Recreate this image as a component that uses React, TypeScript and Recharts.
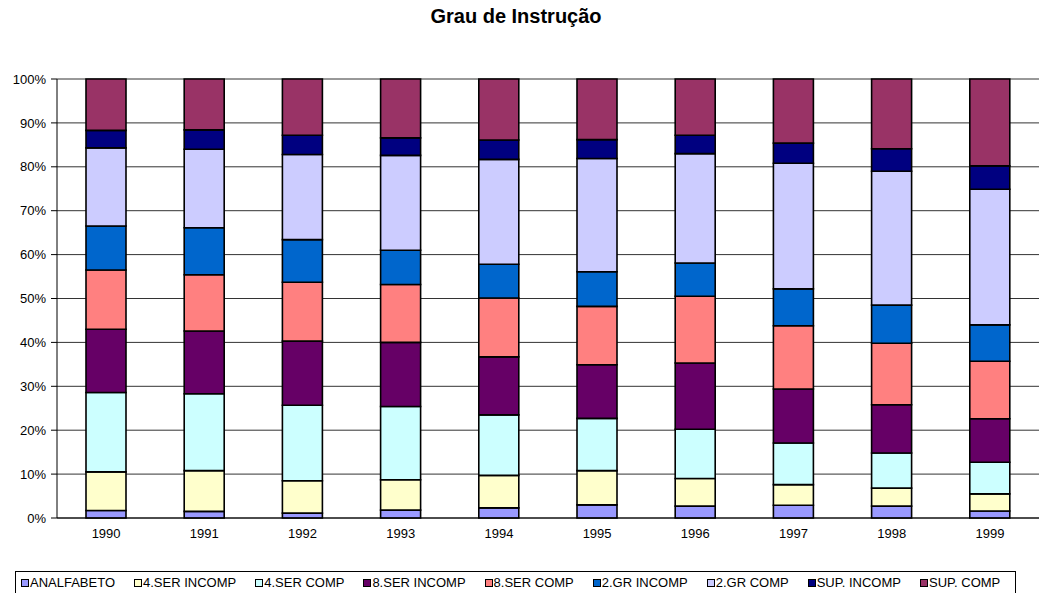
import { Bar, BarChart, CartesianGrid, XAxis, YAxis } from "recharts";

const years = ["1990", "1991", "1992", "1993", "1994", "1995", "1996", "1997", "1998", "1999"];

// shares in % per year
const analfabeto = [1.7, 1.5, 1.1, 1.8, 2.3, 3.0, 2.7, 2.9, 2.7, 1.6];
const ser4Incomp = [8.8, 9.3, 7.4, 6.9, 7.4, 7.8, 6.3, 4.7, 4.1, 3.9];
const ser4Comp = [18.1, 17.5, 17.2, 16.7, 13.8, 11.9, 11.2, 9.5, 8.0, 7.2];
const ser8Incomp = [14.4, 14.3, 14.6, 14.6, 13.2, 12.2, 15.1, 12.3, 11.0, 9.9];
const ser8Comp = [13.5, 12.8, 13.4, 13.2, 13.4, 13.3, 15.2, 14.4, 14.0, 13.1];
const grIncomp = [10.0, 10.7, 9.7, 7.8, 7.7, 7.9, 7.6, 8.4, 8.7, 8.3];
const grComp = [17.8, 17.9, 19.4, 21.6, 23.9, 25.8, 24.9, 28.6, 30.5, 30.9];
const supIncomp = [4.0, 4.4, 4.4, 4.0, 4.4, 4.3, 4.2, 4.6, 5.1, 5.3];
const supComp = [11.7, 11.6, 12.8, 13.4, 13.9, 13.8, 12.8, 14.6, 15.9, 19.8];

const yTicks = [0, 0.1, 0.2, 0.3, 0.4, 0.5, 0.6, 0.7, 0.8, 0.9, 1];
const boundaryTicks = [0, 1, 2, 3, 4, 5, 6, 7, 8, 9, 10];

const series = [
  { key: "a", name: "ANALFABETO", color: "#9999FF", values: analfabeto },
  { key: "b", name: "4.SER INCOMP", color: "#FFFFCC", values: ser4Incomp },
  { key: "c", name: "4.SER COMP", color: "#CCFFFF", values: ser4Comp },
  { key: "d", name: "8.SER INCOMP", color: "#660066", values: ser8Incomp },
  { key: "e", name: "8.SER COMP", color: "#FF8080", values: ser8Comp },
  { key: "f", name: "2.GR INCOMP", color: "#0066CC", values: grIncomp },
  { key: "g", name: "2.GR COMP", color: "#CCCCFF", values: grComp },
  { key: "h", name: "SUP. INCOMP", color: "#000080", values: supIncomp },
  { key: "i", name: "SUP. COMP", color: "#993366", values: supComp }
];

const data = years.map((year, i) => {
  const row: Record<string, string | number> = { year };
  series.forEach((s) => {
    row[s.key] = s.values[i];
  });
  return row;
});

const font = "Arial, 'Liberation Sans', sans-serif";
const tickStyle = { fill: "#000", fontSize: 13, fontFamily: font };

export default function App() {
  return (
    <div
      style={{
        position: "absolute",
        left: 0,
        top: 0,
        width: 1042,
        height: 593,
        background: "#fff",
        overflow: "hidden",
        fontFamily: font
      }}
    >
      <div
        style={{
          position: "absolute",
          top: 5,
          left: 0,
          width: 1032,
          textAlign: "center",
          fontSize: 20,
          fontWeight: "bold"
        }}
      >
        Grau de Instrução
      </div>

      <BarChart
        width={1042}
        height={593}
        data={data}
        stackOffset="expand"
        barSize={40}
        margin={{ top: 79, right: 3, bottom: 45, left: 0 }}
      >
        <CartesianGrid stroke="#333" vertical={false} xAxisId="cat" />
        <XAxis
          xAxisId="edges"
          type="number"
          domain={[0, 10]}
          ticks={boundaryTicks}
          height={0}
          tickFormatter={() => ""}
          axisLine={false}
          tickLine={{ stroke: "#000" }}
          tickSize={5}
        />
        <XAxis
          xAxisId="cat"
          dataKey="year"
          height={30}
          tick={tickStyle}
          tickLine={false}
          tickSize={0}
          tickMargin={11}
          axisLine={{ stroke: "#000" }}
        />
        <YAxis
          width={57}
          ticks={yTicks}
          domain={[0, 1]}
          tickFormatter={(v: number) => `${Math.round(v * 100)}%`}
          tick={tickStyle}
          tickSize={6}
          tickMargin={5}
          axisLine={{ stroke: "#000" }}
          tickLine={{ stroke: "#000" }}
        />
        {series.map((s) => (
          <Bar
            key={s.key}
            dataKey={s.key}
            name={s.name}
            stackId="1"
            xAxisId="cat"
            fill={s.color}
            stroke="#000"
            strokeWidth={1.6}
            isAnimationActive={false}
          />
        ))}
      </BarChart>

      <div
        style={{
          position: "absolute",
          left: 15,
          top: 571,
          width: 1001,
          height: 30,
          border: "1px solid #000",
          display: "flex",
          alignItems: "flex-start",
          paddingLeft: 5,
          boxSizing: "border-box",
          fontSize: 13
        }}
      >
        {series.map((s) => (
          <div
            key={s.key}
            style={{ display: "flex", alignItems: "center", marginRight: 19, marginTop: 3, whiteSpace: "nowrap" }}
          >
            <span
              style={{
                display: "inline-block",
                width: 6,
                height: 6,
                background: s.color,
                border: "1px solid #000",
                marginRight: 1
              }}
            />
            {s.name}
          </div>
        ))}
      </div>
    </div>
  );
}
